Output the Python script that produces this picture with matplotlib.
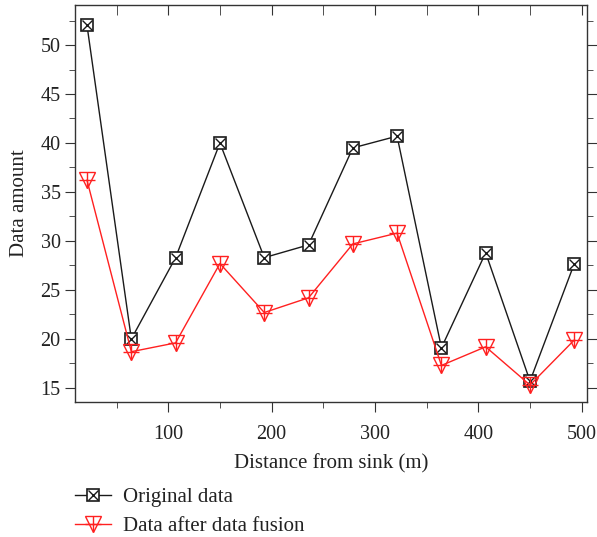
import matplotlib
matplotlib.use("Agg")
import matplotlib.pyplot as plt
from matplotlib.ticker import MultipleLocator
from matplotlib.legend_handler import HandlerTuple

# data
distance = [21.4, 64.3, 107.1, 150.0, 192.9, 235.7, 278.6, 321.4, 364.3, 407.1, 450.0, 492.9]
original = [52.0, 20.0, 28.3, 40.0, 28.3, 29.6, 39.5, 40.7, 19.1, 28.8, 15.7, 27.7]
fused = [36.2, 18.7, 19.6, 27.7, 22.7, 24.2, 29.7, 30.8, 17.3, 19.2, 15.3, 19.9]

plt.rcParams["font.family"] = ["Liberation Serif", "DejaVu Serif"]
TXT = "#222222"

fig = plt.figure(figsize=(5.97, 5.37), dpi=100)
ax = fig.add_axes([0.126, 0.252, 0.857, 0.739])

l1, = ax.plot(distance, original, color="#1a1a1a", lw=1.0, marker="s", ms=9,
              mfc="white", mec="#1a1a1a", mew=1.2)
x1, = ax.plot(distance, original, ls="none", marker="x", ms=7,
              mec="#1a1a1a", mew=1.0)
l2, = ax.plot(distance, fused, color="#ff2020", lw=1.0, marker="v", ms=11,
              mfc="none", mec="#ff2020", mew=1.0)
x2, = ax.plot(distance, fused, ls="none", marker="+", ms=12,
              mec="#ff2020", mew=1.0)

ax.set_xlim(10, 505)
ax.set_ylim(13.6, 54.1)
ax.xaxis.set_major_locator(MultipleLocator(100))
ax.xaxis.set_minor_locator(MultipleLocator(50))
ax.yaxis.set_major_locator(MultipleLocator(5))
ax.yaxis.set_minor_locator(MultipleLocator(2.5))

for sp in ax.spines.values():
    sp.set_color("#333333")
    sp.set_linewidth(1.0)

ax.tick_params(which="both", direction="out", colors="#333333",
               labelcolor=TXT, labelsize=14.5)
ax.tick_params(which="major", length=7)
ax.tick_params(which="minor", length=4)
ax.tick_params(which="both", top=True, right=True)
ax.tick_params(axis="x", which="major", pad=10)

# top ticks point inward, right ticks point outward
for t in ax.xaxis.get_major_ticks() + ax.xaxis.get_minor_ticks():
    t.tick2line.set_marker(matplotlib.lines.TICKDOWN)
    t.tick2line.set_markersize(7)

ax.set_xlabel("Distance from sink (m)", fontsize=15, color=TXT, labelpad=7)
ax.set_ylabel("Data amount", fontsize=15, color=TXT, labelpad=8)

fig.legend(handles=[(l1, x1), (l2, x2)],
           labels=["Original data", "Data after data fusion"],
           handler_map={tuple: HandlerTuple(ndivide=1)},
           loc="upper left", bbox_to_anchor=(0.126, 0.092),
           frameon=False, fontsize=15, handlelength=1.7,
           handletextpad=0.6, labelspacing=0.45, labelcolor=TXT,
           borderaxespad=0, borderpad=0)

fig.savefig("out.png", dpi=100)
